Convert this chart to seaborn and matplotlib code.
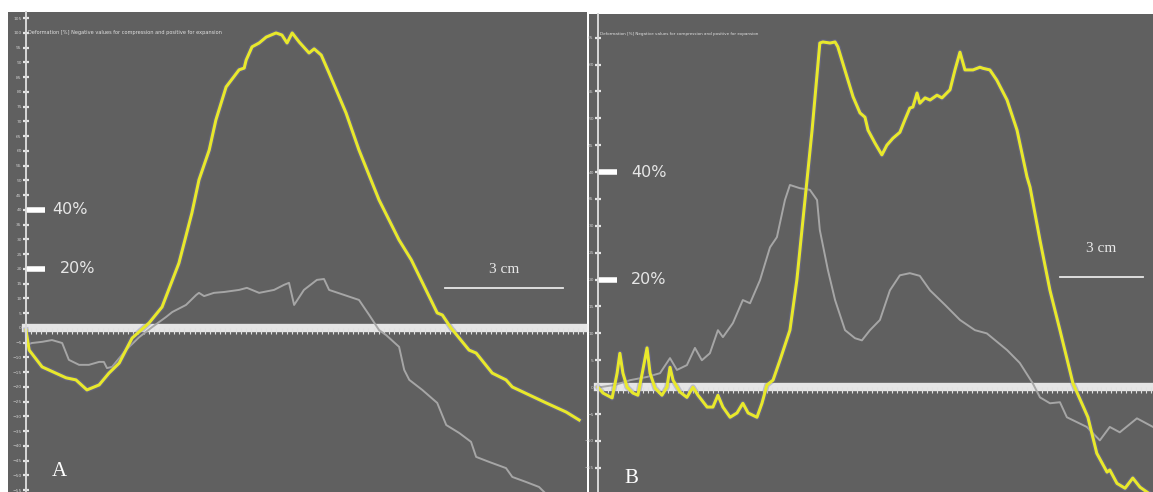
import numpy as np
import pandas as pd
import matplotlib
matplotlib.use("Agg")
import matplotlib.pyplot as plt
from matplotlib.ticker import MultipleLocator
import seaborn as sns

# Panel A: position along the ROI (mm) and deformation (%)
a_yellow_x = [0, 0.8, 4.1, 10.2, 12.7, 15.5, 18.6, 21.1, 23.7, 27.0, 31.3, 34.6, 38.9, 42.2, 44.0,
              46.6, 48.3, 50.9, 54.2, 55.5, 56.0, 57.5, 59.3, 61.1, 63.6, 65.1, 66.4, 67.7, 69.5,
              72.0, 73.3, 75.1, 77.1, 81.4, 84.7, 89.8, 94.9, 98.0, 104.6, 105.9, 108.1, 112.7,
              114.5, 118.6, 122.1, 123.7, 132.3, 137.4, 140.7]
a_yellow_y = [-0.7, -7.5, -13.2, -16.9, -17.6, -21.0, -19.3, -15.3, -11.9, -3.4, 1.7, 7.1, 22.0, 39.0,
              50.2, 60.3, 70.5, 81.7, 87.5, 88.1, 90.8, 95.3, 96.6, 98.6, 100.0, 99.3, 96.6, 100.0,
              96.9, 93.2, 94.6, 92.5, 86.4, 72.9, 60.3, 43.4, 29.8, 23.1, 5.1, 4.4, 0.0, -7.5,
              -8.5, -15.3, -17.6, -20.0, -25.4, -28.5, -31.2]
a_gray_x = [0, 1.5, 4.1, 6.6, 9.2, 10.9, 13.5, 16.0, 18.6, 19.8, 20.6, 21.9, 25.4, 28.8, 32.1, 35.6,
            37.2, 40.7, 43.3, 44.0, 45.3, 47.8, 50.4, 54.2, 56.2, 59.3, 63.1, 65.6, 66.9, 68.2,
            70.7, 74.0, 75.8, 77.1, 80.9, 84.7, 87.3, 89.8, 91.6, 94.9, 96.2, 97.5, 100.8, 104.6,
            106.9, 110.2, 113.2, 114.5, 117.8, 122.1, 123.7, 127.2, 130.5, 131.8]
a_gray_y = [-5.8, -5.1, -4.7, -4.1, -5.1, -10.8, -12.5, -12.5, -11.5, -11.5, -13.6, -13.2, -7.5, -3.1,
            0.3, 3.7, 5.4, 7.8, 11.2, 11.9, 10.8, 11.9, 12.2, 12.9, 13.6, 11.9, 12.9, 14.6, 15.3,
            7.8, 12.9, 16.3, 16.6, 12.9, 11.2, 9.5, 4.4, -0.7, -2.4, -6.4, -14.2, -17.6, -21.0,
            -25.4, -32.9, -35.6, -38.6, -43.7, -45.4, -47.5, -50.5, -52.2, -53.9, -55.6]

# Panel B
b_yellow_x = [0, 1.8, 5.1, 6.9, 7.9, 9.0, 10.5, 12.6, 14.4, 16.2, 17.7, 18.8, 20.6, 23.1, 24.9, 26.0,
              27.1, 29.6, 32.1, 34.3, 36.1, 39.4, 41.5, 43.3, 45.1, 47.7, 50.2, 52.3, 54.2, 57.4,
              59.2, 61.0, 63.2, 65.7, 69.3, 71.8, 74.0, 77.3, 80.1, 81.2, 83.8, 85.6, 86.6, 89.9,
              92.1, 94.6, 96.4, 97.5, 100.0, 102.5, 104.3, 106.5, 109.0, 110.8, 112.6, 113.7, 115.2,
              116.2, 118.1, 119.9, 122.4, 124.2, 127.1, 128.9, 130.7, 132.5, 135.4, 137.9, 139.0,
              141.5, 144.0, 147.7, 151.3, 154.9, 156.0, 159.6, 163.2, 166.8, 171.5, 175.8, 176.9,
              180.1, 183.8, 184.8, 187.4, 190.3, 193.1, 195.7, 199.3]
b_yellow_y = [0, -1.1, -2.0, 2.6, 6.3, 2.6, 0, -1.1, -1.5, 3.2, 7.3, 2.6, -0.2, -1.5, 0, 3.7,
              1.3, -0.9, -1.9, 0, -1.5, -3.7, -3.7, -1.5, -3.7, -5.6, -4.8, -3.0, -4.8, -5.6,
              -3.0, 0.4, 1.3, 5.0, 10.6, 19.9, 31.1, 47.8, 64.0, 64.2, 64.0, 64.2, 63.3, 57.7,
              54.0, 51.0, 50.2, 47.8, 45.4, 43.2, 45.0, 46.3, 47.4, 49.7, 51.9, 52.1, 54.7,
              52.8, 53.8, 53.4, 54.3, 53.8, 55.3, 59.0, 62.3, 59.0, 59.0, 59.5, 59.3,
              59.0, 57.1, 53.4, 47.8, 39.1, 37.2, 27.3, 18.0, 10.6, 0.7, -4.3, -5.6,
              -12.3, -15.8, -15.4, -17.9, -18.8, -16.9, -18.6, -19.9]
b_gray_x = [0.7, 6.1, 11.6, 17.7, 22.4, 26.0, 28.5, 32.1, 35.0, 37.5, 40.4, 43.3, 45.1, 48.7, 52.3,
            54.9, 58.5, 62.1, 64.6, 67.5, 69.3, 72.9, 76.5, 79.1, 80.1, 83.0, 85.6, 89.2, 92.8,
            95.3, 98.2, 101.8, 105.4, 109.0, 112.6, 116.2, 119.9, 125.3, 130.7, 136.1, 140.4,
            147.7, 152.3, 157.0, 159.6, 163.2, 166.8, 169.3, 176.5, 181.2, 184.8, 188.4, 194.6, 200.4]
b_gray_y = [0, 0.4, 1.3, 1.9, 2.6, 5.4, 3.2, 4.1, 7.3, 5.0, 6.3, 10.6, 9.3, 11.9, 16.2,
            15.6, 19.9, 26.0, 27.9, 34.8, 37.6, 37.0, 36.7, 34.8, 29.2, 21.8, 16.2, 10.6, 9.1,
            8.7, 10.6, 12.5, 18.0, 20.8, 21.2, 20.7, 18.0, 15.3, 12.5, 10.6, 10.0,
            6.9, 4.5, 0.7, -1.9, -3.0, -2.8, -5.6, -7.4, -9.9, -7.4, -8.4, -5.8, -7.4]

ref_levels = [20, 40]
title_txt = "Deformation [%] Negative values for compression and positive for expansion"

BG = "#606060"
YEL = "#e8e82c"
GRY = "#a6a6a6"

fig = plt.figure(figsize=(11.53, 4.92), dpi=100)
W, H = 1153, 492


def px_axes(x0, y0, x1, y1):
    return fig.add_axes([x0 / W, 1 - y1 / H, (x1 - x0) / W, (y1 - y0) / H])


def draw_panel(ax, yx, yy, gx, gy, xlim, ylim, ystep, xtick, bar_len, txt_dx, scale_x, scale_y,
               scale_ty, letter, letter_xy, title_size, lab_dx):
    ax.set_facecolor(BG)

    gray = pd.DataFrame({"x": gx, "y": gy})
    yel = pd.DataFrame({"x": yx, "y": yy})
    sns.lineplot(data=gray, x="x", y="y", ax=ax, color=GRY, lw=1.4, sort=False, estimator=None)
    sns.lineplot(data=yel, x="x", y="y", ax=ax, color="#7070b0", lw=4.0, alpha=0.35,
                 sort=False, estimator=None)
    sns.lineplot(data=yel, x="x", y="y", ax=ax, color=YEL, lw=2.2, sort=False, estimator=None)

    # baseline ruler (x axis at 0) and vertical scale (y axis at x=0)
    for s in ["top", "right"]:
        ax.spines[s].set_visible(False)
    ax.spines["bottom"].set_position(("data", 0))
    ax.spines["bottom"].set_bounds(0, xlim[1])
    ax.spines["bottom"].set_color("#f4f4f4")
    ax.spines["bottom"].set_linewidth(6)
    ax.spines["bottom"].set_alpha(0.9)
    ax.spines["bottom"].set_zorder(1.5)
    ax.spines["left"].set_position(("data", 0))
    ax.spines["left"].set_color("#d8d8d8")
    ax.spines["left"].set_linewidth(1.4)
    ax.set_xticks(np.arange(0, xlim[1], xtick))
    ax.tick_params(axis="x", direction="out", length=4, width=0.8, color="#e0e0e0",
                   labelbottom=False)
    ax.yaxis.set_major_locator(MultipleLocator(ystep))
    ax.tick_params(axis="y", direction="inout", length=4, width=1.6, color="#e6e6e6",
                   labelsize=3.2, labelcolor="#d0d0d0", pad=1)
    ax.set_xlim(*xlim)
    ax.set_ylim(*ylim)
    ax.set_xlabel("")
    ax.set_ylabel("")

    # 20 % / 40 % markers
    for lv in ref_levels:
        ax.plot([0, bar_len], [lv, lv], color="white", lw=4, solid_capstyle="butt")
        ax.text(bar_len + txt_dx + (lab_dx if lv == 20 else 0), lv, f"{lv}%", color="#e6e6e6",
                fontsize=11.5, va="center", ha="left")

    # 3 cm scale bar
    ax.plot([scale_x, scale_x + 30], [scale_y, scale_y], color="#e8e8e8", lw=1.3)
    ax.text(scale_x + 15, scale_ty, "3 cm", color="#e8e8e8", fontsize=11, ha="center",
            va="center", family="Liberation Serif")

    ax.text(*letter_xy, letter, color="white", fontsize=15, family="Liberation Serif",
            ha="left", va="center")
    ax.text(0.6, ylim[1] - (ylim[1] - ylim[0]) * 0.042, title_txt, color="#e0e0e0",
            fontsize=title_size, ha="left", va="center")


ax_a = px_axes(8, 12, 587, 492)
draw_panel(ax_a, a_yellow_x, a_yellow_y, a_gray_x, a_gray_y,
           xlim=(-4.58, 142.7), ylim=(-55.6, 107.1), ystep=5, xtick=1.3, bar_len=4.8,
           txt_dx=1.8, scale_x=106.6, scale_y=13.6, scale_ty=19.7, letter="A",
           letter_xy=(6.5, -48.5), title_size=3.6, lab_dx=2.0)

ax_b = px_axes(589, 14, 1153, 492)
draw_panel(ax_b, b_yellow_x, b_yellow_y, b_gray_x, b_gray_y,
           xlim=(-3.25, 200.4), ylim=(-19.5, 69.4), ystep=5, xtick=1.8, bar_len=7.0,
           txt_dx=5.0, scale_x=166.8, scale_y=20.5, scale_ty=25.7, letter="B",
           letter_xy=(9.5, -17.0), title_size=3.0, lab_dx=0.0)

fig.savefig("out.png", dpi=100, facecolor="white")
